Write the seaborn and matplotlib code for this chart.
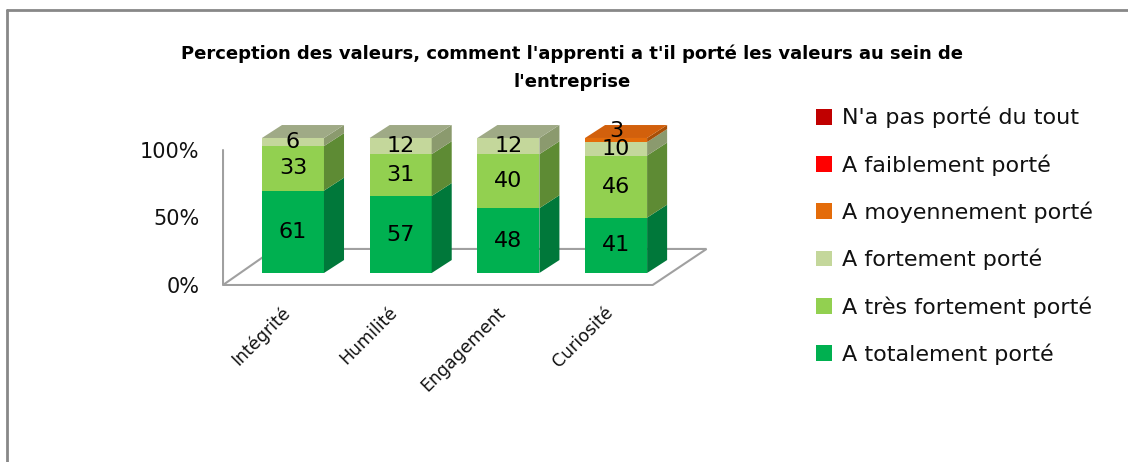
import numpy as np
import pandas as pd
import seaborn as sns
import matplotlib.pyplot as plt
from matplotlib.patches import Polygon, Patch
from matplotlib.lines import Line2D
from matplotlib.transforms import ScaledTranslation

sns.set_theme(style="white")
plt.rcParams['font.family'] = ['DejaVu Sans']

# --- data ---
categories = ["Intégrité", "Humilité", "Engagement", "Curiosité"]
levels = ["A totalement porté", "A très fortement porté", "A fortement porté",
          "A moyennement porté", "A faiblement porté", "N'a pas porté du tout"]
totalement = [61, 57, 48, 41]
tres_fortement = [33, 31, 40, 46]
fortement = [6, 12, 12, 10]
moyennement = [0, 0, 0, 3]
faiblement = [0, 0, 0, 0]
pas_du_tout = [0, 0, 0, 0]
series = [totalement, tres_fortement, fortement, moyennement, faiblement, pas_du_tout]

front_cols = ["#00B050", "#92D050", "#C4D79B", "#E46C0A", "#FF0000", "#C00000"]
side_cols = ["#00783A", "#5E8B34", "#8B9A6E", "#A84F07", "#B80000", "#8A0000"]
top_cols = ["#00A04A", "#86B555", "#9FAA86", "#D2600C", "#E00000", "#A00000"]

title = "Perception des valeurs, comment l'apprenti a t'il porté les valeurs au sein de\nl'entreprise"

vals = np.array(series, dtype=float)
cum = np.cumsum(vals, axis=0)
bottoms = cum - vals

df = pd.DataFrame({"cat": np.tile(categories, len(levels)),
                   "level": np.repeat(levels, len(categories)),
                   "cum": cum.ravel()})

fig = plt.figure(figsize=(11.28, 4.62), dpi=100)
ax = fig.add_axes([0.1967, 0.3799, 0.4354, 0.3565])

bw = 0.576
dx, dy = 0.186, 9.6

# floor + left wall
floor = Polygon([(-0.65, -8.9), (3.34, -8.9), (3.84, 17.8), (-0.17, 17.8)],
                closed=True, facecolor="white", edgecolor="#A0A0A0", lw=1.5, zorder=1)
ax.add_patch(floor)
ax.plot([-0.65, -0.65], [-8.9, 91], color="#A0A0A0", lw=1.5, zorder=1)

# front faces: overlay cumulative totals, topmost level first
for k in range(len(levels) - 1, -1, -1):
    sub = df[df["level"] == levels[k]]
    if sub["cum"].sum() == 0:
        continue
    sns.barplot(data=sub, x="cat", y="cum", color=front_cols[k], saturation=1,
                width=bw, ax=ax, zorder=2, linewidth=0)

# side and top faces, value labels
for i in range(len(categories)):
    xr = i + bw / 2
    for k in range(len(levels)):
        if vals[k, i] <= 0:
            continue
        b, t = bottoms[k, i], cum[k, i]
        ax.add_patch(Polygon([(xr, b), (xr + dx, b + dy), (xr + dx, t + dy), (xr, t)],
                             closed=True, facecolor=side_cols[k], lw=0, zorder=2))
    ktop = max(k for k in range(len(levels)) if vals[k, i] > 0)
    T = cum[ktop, i]
    ax.add_patch(Polygon([(i - bw / 2, T), (xr, T), (xr + dx, T + dy), (i - bw / 2 + dx, T + dy)],
                         closed=True, facecolor=top_cols[ktop], lw=0, zorder=2))
    for k in range(len(levels)):
        v = vals[k, i]
        if v > 0:
            yy = bottoms[k, i] + v / 2 + (7 if v < 5 else 0)
            ax.text(i, yy, f"{int(v)}", ha="center", va="center",
                    fontsize=16, color="black", zorder=3)

ax.set_xlim(-0.66, 3.9)
ax.set_ylim(-10, 112)
ax.set_xlabel("")
ax.set_ylabel("")
for s in ax.spines.values():
    s.set_visible(False)

ax.set_yticks([0, 50, 100])
ax.set_yticklabels(["0%", "50%", "100%"], fontsize=15, color="#111111")
ax.tick_params(axis="y", length=0, pad=16)
for lab in ax.get_yticklabels():
    lab.set_transform(lab.get_transform() + ScaledTranslation(0, -0.12, fig.dpi_scale_trans))

ax.set_xticks(range(len(categories)))
ax.set_xticklabels(categories, fontsize=12.5, rotation=45, ha="right",
                   rotation_mode="anchor", color="#111111")
ax.tick_params(axis="x", length=0, pad=12)
for lab in ax.get_xticklabels():
    lab.set_transform(lab.get_transform() + ScaledTranslation(-0.12, 0, fig.dpi_scale_trans))

fig.text(572 / 1128, 1 - 67.5 / 462, title, ha="center", va="center",
         fontsize=13, fontweight="bold", linespacing=1.7, color="black")

handles = [Patch(facecolor=front_cols[k], edgecolor="none") for k in range(len(levels) - 1, -1, -1)]
labels = [levels[k] for k in range(len(levels) - 1, -1, -1)]
leg = fig.legend(handles, labels, loc="upper left", bbox_to_anchor=(816 / 1128, 1 - 107 / 462),
                 frameon=False, fontsize=16, handlelength=0.72, handleheight=0.72,
                 handletextpad=0.45, labelspacing=1.16, borderpad=0, borderaxespad=0)
for t in leg.get_texts():
    t.set_color("#111111")

# chart border (only top and left visible)
fig.add_artist(Line2D([7 / 1128, 1], [1 - 10 / 462, 1 - 10 / 462], color="#888888", lw=2))
fig.add_artist(Line2D([7 / 1128, 7 / 1128], [0, 1 - 10 / 462], color="#888888", lw=2))

fig.savefig("out.png", dpi=100)
